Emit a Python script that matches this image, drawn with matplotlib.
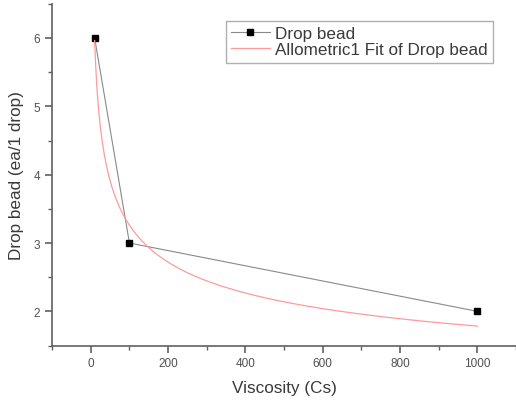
import matplotlib
matplotlib.use("Agg")
import matplotlib.pyplot as plt
import numpy as np
from matplotlib.ticker import MultipleLocator

plt.rcParams['font.family'] = ['Liberation Sans', 'DejaVu Sans']

viscosity = [10, 100, 1000]
drop_bead = [6, 3, 2]

# Allometric1 fit y = a * x^b, parameters
fit_a = 10.9
fit_b = -0.262
fit_x = np.linspace(10, 1000, 400)
fit_y = fit_a * fit_x ** fit_b

text_color = "#3a3a3a"
axis_color = "#606060"

fig = plt.figure(figsize=(5.16, 4.02), dpi=100)
ax = fig.add_axes([0.101, 0.138, 0.899, 0.85])

ax.plot(viscosity, drop_bead, color="#8a8a8a", lw=0.8, marker="s",
        markersize=5, markerfacecolor="black", markeredgecolor="black",
        label="Drop bead")
ax.plot(fit_x, fit_y, color="#ff9a9a", lw=0.9,
        label="Allometric1 Fit of Drop bead")

ax.set_xlim(-100, 1100)
ax.set_ylim(1.5, 6.5)
ax.xaxis.set_major_locator(MultipleLocator(200))
ax.xaxis.set_minor_locator(MultipleLocator(100))
ax.yaxis.set_major_locator(MultipleLocator(1))
ax.yaxis.set_minor_locator(MultipleLocator(0.5))

for side in ["top", "right"]:
    ax.spines[side].set_visible(False)
for side in ["left", "bottom"]:
    ax.spines[side].set_color(axis_color)
    ax.spines[side].set_linewidth(1.2)

ax.tick_params(which="major", direction="out", length=5, width=1.2,
               color=axis_color, labelsize=8.5, labelcolor="#505050")
ax.tick_params(which="minor", direction="out", length=3, width=1.0,
               color=axis_color)

ax.set_xlabel("Viscosity (Cs)", fontsize=12.3, color=text_color, labelpad=8)
ax.set_ylabel("Drop bead (ea/1 drop)", fontsize=12.3, color=text_color, labelpad=7)

leg = ax.legend(loc="upper right", bbox_to_anchor=(0.95, 0.951), fontsize=12.3,
                fancybox=False, framealpha=1, edgecolor="#b0b0b0",
                borderpad=0.3, labelspacing=0.1, handlelength=2.3,
                handletextpad=0.3, borderaxespad=0)
for t in leg.get_texts():
    t.set_color(text_color)

fig.savefig("out.png", dpi=100)
